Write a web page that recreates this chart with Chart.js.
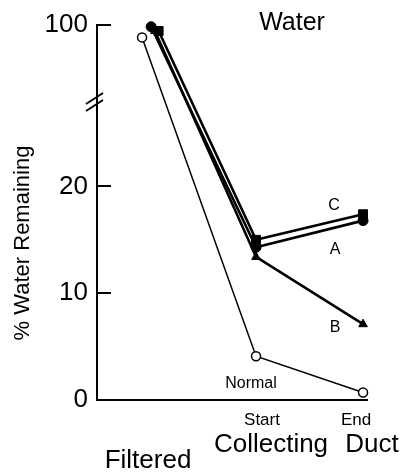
<!DOCTYPE html>
<html>
<head>
<meta charset="utf-8">
<script src="https://cdn.jsdelivr.net/npm/chart.js@4"></script>
<style>
  html, body { margin: 0; padding: 0; background: #fff; }
  canvas { display: block; }
</style>
</head>
<body>
<canvas id="chart" width="403" height="473"></canvas>
<script>
// Water remaining along the nephron

// x: 1 = Filtered, 2 = Start of collecting duct, 3 = End (Filtered points are nudged apart in the original)
const normalX = [0.935, 2, 3];
const normalY = [98.8, 4.1, 0.7];

const seriesAX = [1.02, 2, 3];
const seriesAY = [99.8, 14.3, 16.8];

const seriesBX = [1.055, 2, 3];
const seriesBY = [99.4, 13.4, 7.1];

const seriesCX = [1.09, 2, 3];
const seriesCY = [99.4, 15.0, 17.4];

const yTickValues = [0, 10, 20, 100];
const yTickLabels = ['0', '10', '20', '100'];

// axis is broken between ~23 and 100
const BREAK_TOP = 35.16;
function toAxis(v) {
    return v > 50 ? BREAK_TOP - (100 - v) : v;
}

function points(xs, ys) {
    return xs.map((x, i) => ({ x: x, y: toAxis(ys[i]) }));
}

const FONT = '"Liberation Sans", Arial, Helvetica, sans-serif';

const annotations = {
    id: 'annotations',
    afterDraw(chart) {
        const ctx = chart.ctx;
        const ys = chart.scales.y;
        const left = chart.chartArea.left;

        ctx.save();
        ctx.strokeStyle = '#000';
        ctx.lineWidth = 2;

        // inward tick marks
        for (const v of yTickValues.slice(1)) {
            const py = Math.round(ys.getPixelForValue(toAxis(v)));
            ctx.beginPath();
            ctx.moveTo(left, py);
            ctx.lineTo(left + 14, py);
            ctx.stroke();
        }

        // break symbol
        ctx.beginPath();
        ctx.moveTo(left - 11, 104);
        ctx.lineTo(left + 6, 93);
        ctx.moveTo(left - 11, 111);
        ctx.lineTo(left + 6, 100);
        ctx.stroke();

        ctx.fillStyle = '#000';
        ctx.textAlign = 'center';
        ctx.textBaseline = 'middle';

        ctx.font = '25px ' + FONT;
        ctx.fillText('Water', 292, 23);

        ctx.font = '16px ' + FONT;
        ctx.fillText('C', 334, 206);
        ctx.fillText('A', 335, 250);
        ctx.fillText('B', 335, 328);
        ctx.fillText('Normal', 251, 384);

        ctx.textBaseline = 'alphabetic';
        ctx.font = '17px ' + FONT;
        ctx.fillText('Start', 262, 425);
        ctx.fillText('End', 356, 425);

        ctx.font = '26px ' + FONT;
        ctx.fillText('Collecting', 271, 452);
        ctx.fillText('Duct', 372, 452);
        ctx.fillText('Filtered', 148, 468);

        // y title
        ctx.translate(23, 243);
        ctx.rotate(-Math.PI / 2);
        ctx.textBaseline = 'middle';
        ctx.font = '22px ' + FONT;
        ctx.fillText('% Water Remaining', 0, 0);
        ctx.restore();
    }
};

const filledStyle = {
    borderColor: '#000',
    backgroundColor: '#000',
    borderWidth: 2.6,
    pointBorderWidth: 1,
    pointBackgroundColor: '#000',
    pointBorderColor: '#000',
    tension: 0,
    clip: false
};

new Chart(document.getElementById('chart'), {
    type: 'line',
    data: {
        datasets: [
            {
                label: 'Normal',
                data: points(normalX, normalY),
                borderColor: '#000',
                borderWidth: 1.5,
                pointStyle: 'circle',
                pointRadius: 4.5,
                pointBorderWidth: 1.5,
                pointBackgroundColor: '#fff',
                pointBorderColor: '#000',
                clip: false
            },
            Object.assign({ label: 'B', data: points(seriesBX, seriesBY), pointStyle: 'triangle', pointRadius: 5 }, filledStyle),
            Object.assign({ label: 'A', data: points(seriesAX, seriesAY), pointStyle: 'circle', pointRadius: 5 }, filledStyle),
            Object.assign({ label: 'C', data: points(seriesCX, seriesCY), pointStyle: 'rect', pointRadius: 6.3 }, filledStyle)
        ]
    },
    options: {
        responsive: false,
        animation: false,
        layout: { padding: { top: 22, right: 36, left: 0, bottom: 0 } },
        plugins: {
            legend: { display: false },
            tooltip: { enabled: false }
        },
        scales: {
            x: {
                type: 'linear',
                min: 0.514,
                max: 3.037,
                ticks: { display: false },
                grid: { drawOnChartArea: false, drawTicks: false },
                border: { display: true, color: '#000', width: 2 },
                afterFit(scale) { scale.height = 73; }
            },
            y: {
                type: 'linear',
                min: 0,
                max: BREAK_TOP,
                afterBuildTicks(scale) {
                    scale.ticks = yTickValues.map(v => ({ value: toAxis(v) }));
                },
                ticks: {
                    padding: 9,
                    color: '#000',
                    font: { size: 26, family: FONT },
                    callback: (value, index) => yTickLabels[index]
                },
                grid: { drawOnChartArea: false, drawTicks: false },
                border: { display: true, color: '#000', width: 2 },
                afterFit(scale) { scale.width = 97; }
            }
        }
    },
    plugins: [annotations]
});
</script>
</body>
</html>
